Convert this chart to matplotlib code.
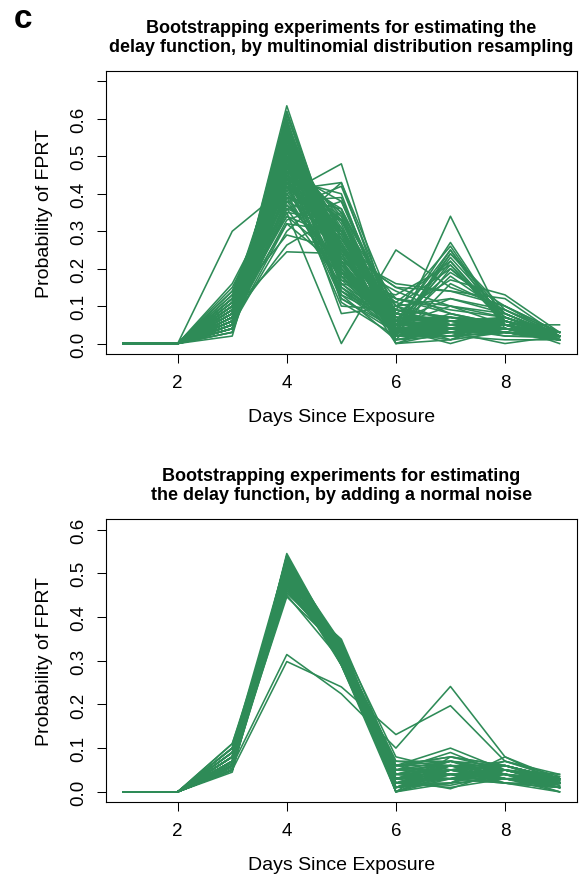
import matplotlib

matplotlib.use("Agg")
import matplotlib.pyplot as plt

plt.rcParams["font.family"] = ["Liberation Sans", "DejaVu Sans"]

LINE_COLOR = "#2E8B57"

days = [1, 2, 3, 4, 5, 6, 7, 8, 9]
# every run is zero on days 1 and 2
lead_zeros = [0.0, 0.0]

# probability of FPRT on days 3..9, one row per bootstrap run
multinomial_runs = [
    [0.06, 0.635, 0.20, 0.03, 0.04, 0.02, 0.015],
    [0.05, 0.62, 0.22, 0.00, 0.03, 0.03, 0.01],
    [0.08, 0.60, 0.18, 0.05, 0.05, 0.02, 0.02],
    [0.04, 0.59, 0.24, 0.02, 0.06, 0.04, 0.01],
    [0.10, 0.58, 0.16, 0.06, 0.03, 0.05, 0.02],
    [0.07, 0.57, 0.26, 0.01, 0.04, 0.03, 0.02],
    [0.12, 0.56, 0.15, 0.03, 0.07, 0.05, 0.02],
    [0.05, 0.55, 0.28, 0.04, 0.00, 0.04, 0.02],
    [0.09, 0.54, 0.20, 0.08, 0.05, 0.03, 0.01],
    [0.03, 0.53, 0.30, 0.02, 0.06, 0.04, 0.02],
    [0.11, 0.52, 0.22, 0.05, 0.04, 0.03, 0.03],
    [0.06, 0.51, 0.25, 0.10, 0.03, 0.04, 0.01],
    [0.14, 0.50, 0.19, 0.03, 0.08, 0.04, 0.02],
    [0.08, 0.50, 0.32, 0.00, 0.01, 0.03, 0.02],
    [0.05, 0.49, 0.27, 0.06, 0.07, 0.05, 0.01],
    [0.10, 0.48, 0.24, 0.04, 0.05, 0.06, 0.03],
    [0.07, 0.48, 0.35, 0.03, 0.02, 0.03, 0.02],
    [0.12, 0.47, 0.21, 0.07, 0.06, 0.05, 0.02],
    [0.04, 0.46, 0.38, 0.04, 0.03, 0.00, 0.02],
    [0.09, 0.46, 0.18, 0.12, 0.08, 0.05, 0.02],
    [0.06, 0.45, 0.30, 0.05, 0.06, 0.06, 0.02],
    [0.15, 0.44, 0.25, 0.04, 0.05, 0.05, 0.02],
    [0.08, 0.44, 0.40, 0.02, 0.02, 0.03, 0.01],
    [0.05, 0.43, 0.33, 0.06, 0.07, 0.04, 0.02],
    [0.11, 0.42, 0.28, 0.08, 0.04, 0.05, 0.02],
    [0.30, 0.42, 0.14, 0.03, 0.05, 0.04, 0.02],
    [0.07, 0.41, 0.43, 0.03, 0.02, 0.03, 0.01],
    [0.06, 0.40, 0.48, 0.02, 0.02, 0.01, 0.01],
    [0.10, 0.40, 0.26, 0.09, 0.07, 0.06, 0.02],
    [0.04, 0.39, 0.36, 0.08, 0.06, 0.05, 0.02],
    [0.08, 0.38, 0.30, 0.05, 0.10, 0.07, 0.02],
    [0.12, 0.37, 0.22, 0.14, 0.08, 0.05, 0.02],
    [0.05, 0.36, 0.42, 0.06, 0.04, 0.05, 0.02],
    [0.09, 0.35, 0.00, 0.25, 0.15, 0.10, 0.03],
    [0.07, 0.35, 0.33, 0.10, 0.06, 0.07, 0.02],
    [0.10, 0.34, 0.28, 0.06, 0.12, 0.08, 0.02],
    [0.06, 0.33, 0.38, 0.07, 0.07, 0.06, 0.03],
    [0.08, 0.32, 0.30, 0.12, 0.09, 0.07, 0.02],
    [0.05, 0.30, 0.43, 0.08, 0.05, 0.07, 0.02],
    [0.11, 0.29, 0.25, 0.15, 0.10, 0.08, 0.02],
    [0.07, 0.263, 0.35, 0.10, 0.12, 0.09, 0.03],
    [0.09, 0.245, 0.24, 0.16, 0.14, 0.10, 0.03],
    [0.05, 0.50, 0.12, 0.03, 0.22, 0.06, 0.02],
    [0.06, 0.45, 0.13, 0.06, 0.25, 0.04, 0.01],
    [0.04, 0.48, 0.08, 0.10, 0.20, 0.08, 0.02],
    [0.07, 0.40, 0.15, 0.05, 0.27, 0.05, 0.01],
    [0.03, 0.42, 0.18, 0.02, 0.24, 0.09, 0.02],
    [0.05, 0.38, 0.20, 0.04, 0.23, 0.07, 0.03],
    [0.06, 0.36, 0.16, 0.13, 0.21, 0.06, 0.02],
    [0.04, 0.44, 0.10, 0.09, 0.26, 0.05, 0.02],
    [0.08, 0.34, 0.22, 0.03, 0.25, 0.06, 0.02],
    [0.03, 0.46, 0.14, 0.06, 0.19, 0.10, 0.02],
    [0.05, 0.32, 0.20, 0.02, 0.34, 0.05, 0.02],
    [0.06, 0.52, 0.11, 0.02, 0.20, 0.07, 0.02],
    [0.04, 0.39, 0.17, 0.11, 0.22, 0.05, 0.00],
    [0.07, 0.43, 0.12, 0.04, 0.24, 0.08, 0.02],
    [0.05, 0.37, 0.25, 0.15, 0.14, 0.12, 0.02],
    [0.06, 0.41, 0.19, 0.08, 0.17, 0.13, 0.03],
    [0.08, 0.58, 0.22, 0.02, 0.04, 0.04, 0.02],
    [0.06, 0.56, 0.19, 0.07, 0.05, 0.04, 0.03],
    [0.09, 0.53, 0.24, 0.03, 0.04, 0.05, 0.02],
    [0.07, 0.51, 0.27, 0.02, 0.05, 0.06, 0.02],
    [0.05, 0.61, 0.21, 0.03, 0.04, 0.04, 0.02],
    [0.10, 0.55, 0.17, 0.05, 0.06, 0.05, 0.02],
    [0.04, 0.57, 0.23, 0.06, 0.03, 0.05, 0.05],
    [0.13, 0.49, 0.20, 0.06, 0.05, 0.05, 0.02],
    [0.06, 0.47, 0.30, 0.06, 0.04, 0.05, 0.02],
    [0.08, 0.45, 0.26, 0.09, 0.05, 0.05, 0.02],
    [0.16, 0.44, 0.22, 0.05, 0.06, 0.05, 0.02],
    [0.05, 0.54, 0.25, 0.04, 0.05, 0.05, 0.02],
    [0.07, 0.60, 0.15, 0.06, 0.05, 0.05, 0.02],
    [0.09, 0.47, 0.35, 0.02, 0.03, 0.03, 0.01],
    [0.06, 0.43, 0.22, 0.12, 0.10, 0.05, 0.02],
    [0.02, 0.52, 0.28, 0.08, 0.04, 0.04, 0.02],
    [0.11, 0.50, 0.26, 0.03, 0.03, 0.05, 0.02],
    [0.07, 0.62, 0.18, 0.04, 0.04, 0.03, 0.02],
    [0.09, 0.59, 0.20, 0.03, 0.05, 0.03, 0.01],
    [0.06, 0.57, 0.21, 0.05, 0.05, 0.04, 0.02],
    [0.11, 0.56, 0.19, 0.04, 0.04, 0.04, 0.02],
    [0.05, 0.55, 0.30, 0.02, 0.03, 0.03, 0.02],
    [0.08, 0.54, 0.23, 0.05, 0.04, 0.04, 0.02],
    [0.12, 0.53, 0.18, 0.06, 0.05, 0.04, 0.02],
    [0.06, 0.52, 0.31, 0.03, 0.03, 0.04, 0.01],
    [0.10, 0.51, 0.21, 0.07, 0.05, 0.04, 0.02],
    [0.04, 0.50, 0.34, 0.04, 0.04, 0.03, 0.01],
    [0.13, 0.48, 0.27, 0.02, 0.04, 0.04, 0.02],
    [0.07, 0.47, 0.25, 0.07, 0.06, 0.06, 0.02],
    [0.09, 0.46, 0.33, 0.04, 0.03, 0.04, 0.01],
    [0.05, 0.45, 0.36, 0.03, 0.05, 0.04, 0.02],
    [0.14, 0.43, 0.29, 0.05, 0.04, 0.03, 0.02],
    [0.08, 0.42, 0.31, 0.07, 0.05, 0.05, 0.02],
    [0.10, 0.39, 0.33, 0.06, 0.05, 0.05, 0.02],
    [0.06, 0.38, 0.39, 0.05, 0.05, 0.05, 0.02],
    [0.12, 0.36, 0.30, 0.08, 0.06, 0.06, 0.02],
    [0.05, 0.58, 0.26, 0.03, 0.03, 0.03, 0.02],
    [0.04, 0.49, 0.14, 0.05, 0.21, 0.05, 0.02],
    [0.05, 0.47, 0.16, 0.04, 0.18, 0.08, 0.02],
    [0.06, 0.53, 0.13, 0.01, 0.16, 0.09, 0.02],
    [0.09, 0.55, 0.21, 0.06, 0.01, 0.06, 0.02],
    [0.07, 0.50, 0.29, 0.00, 0.05, 0.07, 0.02],
    [0.05, 0.51, 0.33, 0.01, 0.02, 0.05, 0.03],
    [0.08, 0.49, 0.30, 0.03, 0.01, 0.06, 0.03],
    [0.06, 0.56, 0.25, 0.02, 0.02, 0.06, 0.03],
    [0.09, 0.44, 0.34, 0.01, 0.03, 0.07, 0.02],
    [0.07, 0.52, 0.19, 0.09, 0.07, 0.04, 0.02],
    [0.10, 0.45, 0.23, 0.11, 0.06, 0.03, 0.02],
]

noise_runs = [
    [0.05, 0.545, 0.32, 0.01, 0.04, 0.03, 0.01],
    [0.06, 0.54, 0.31, 0.02, 0.03, 0.04, 0.00],
    [0.07, 0.535, 0.33, 0.00, 0.02, 0.03, 0.01],
    [0.05, 0.53, 0.30, 0.03, 0.05, 0.03, 0.01],
    [0.08, 0.53, 0.32, 0.01, 0.03, 0.02, 0.01],
    [0.06, 0.525, 0.34, 0.00, 0.04, 0.02, 0.02],
    [0.09, 0.52, 0.30, 0.02, 0.04, 0.03, 0.01],
    [0.05, 0.52, 0.33, 0.04, 0.03, 0.02, 0.01],
    [0.07, 0.515, 0.31, 0.03, 0.05, 0.04, 0.02],
    [0.10, 0.51, 0.29, 0.02, 0.06, 0.03, 0.02],
    [0.06, 0.51, 0.335, 0.01, 0.05, 0.04, 0.02],
    [0.08, 0.505, 0.32, 0.05, 0.04, 0.03, 0.02],
    [0.05, 0.50, 0.31, 0.06, 0.06, 0.04, 0.02],
    [0.11, 0.50, 0.30, 0.01, 0.04, 0.04, 0.02],
    [0.07, 0.495, 0.34, 0.02, 0.05, 0.03, 0.02],
    [0.09, 0.49, 0.315, 0.03, 0.07, 0.04, 0.01],
    [0.06, 0.49, 0.325, 0.04, 0.04, 0.05, 0.03],
    [0.08, 0.485, 0.30, 0.05, 0.06, 0.05, 0.02],
    [0.10, 0.48, 0.32, 0.02, 0.05, 0.04, 0.03],
    [0.05, 0.48, 0.345, 0.03, 0.06, 0.04, 0.02],
    [0.07, 0.475, 0.33, 0.04, 0.07, 0.05, 0.03],
    [0.09, 0.47, 0.31, 0.06, 0.08, 0.05, 0.02],
    [0.06, 0.465, 0.33, 0.05, 0.09, 0.04, 0.03],
    [0.08, 0.46, 0.32, 0.07, 0.06, 0.06, 0.03],
    [0.055, 0.455, 0.34, 0.08, 0.05, 0.06, 0.02],
    [0.10, 0.45, 0.30, 0.06, 0.10, 0.05, 0.02],
    [0.065, 0.446, 0.325, 0.07, 0.07, 0.06, 0.03],
    [0.045, 0.54, 0.30, 0.01, 0.02, 0.05, 0.04],
    [0.06, 0.52, 0.29, 0.00, 0.08, 0.06, 0.03],
    [0.07, 0.50, 0.32, 0.00, 0.05, 0.07, 0.035],
    [0.08, 0.53, 0.31, 0.02, 0.01, 0.03, 0.02],
    [0.05, 0.51, 0.30, 0.01, 0.02, 0.08, 0.03],
    [0.09, 0.49, 0.29, 0.03, 0.03, 0.07, 0.04],
    [0.06, 0.47, 0.34, 0.02, 0.02, 0.06, 0.03],
    [0.07, 0.525, 0.305, 0.04, 0.06, 0.02, 0.00],
    [0.05, 0.50, 0.335, 0.03, 0.007, 0.05, 0.02],
    [0.08, 0.48, 0.31, 0.04, 0.05, 0.02, 0.01],
    [0.06, 0.46, 0.349, 0.06, 0.04, 0.03, 0.00],
    [0.10, 0.535, 0.295, 0.01, 0.05, 0.03, 0.025],
    [0.07, 0.515, 0.32, 0.05, 0.07, 0.03, 0.035],
    [0.06, 0.53, 0.315, 0.02, 0.04, 0.03, 0.015],
    [0.08, 0.52, 0.325, 0.03, 0.03, 0.03, 0.02],
    [0.07, 0.51, 0.30, 0.04, 0.05, 0.04, 0.01],
    [0.09, 0.50, 0.315, 0.03, 0.04, 0.05, 0.03],
    [0.06, 0.49, 0.33, 0.05, 0.06, 0.04, 0.02],
    [0.10, 0.48, 0.30, 0.04, 0.07, 0.05, 0.025],
    [0.05, 0.47, 0.335, 0.05, 0.05, 0.06, 0.03],
    [0.08, 0.465, 0.31, 0.06, 0.07, 0.05, 0.02],
    [0.07, 0.54, 0.305, 0.02, 0.03, 0.03, 0.01],
    [0.09, 0.525, 0.32, 0.01, 0.04, 0.04, 0.02],
    [0.06, 0.505, 0.33, 0.03, 0.06, 0.05, 0.015],
    [0.08, 0.495, 0.305, 0.02, 0.05, 0.06, 0.03],
    [0.05, 0.485, 0.34, 0.04, 0.03, 0.05, 0.02],
    [0.11, 0.475, 0.31, 0.03, 0.06, 0.04, 0.01],
    [0.07, 0.455, 0.33, 0.06, 0.08, 0.06, 0.025],
    [0.06, 0.53, 0.29, 0.01, 0.06, 0.05, 0.03],
    [0.08, 0.51, 0.34, 0.02, 0.015, 0.04, 0.02],
    [0.05, 0.52, 0.31, 0.00, 0.03, 0.06, 0.025],
    [0.05, 0.298, 0.24, 0.131, 0.197, 0.07, 0.03],
    [0.06, 0.314, 0.224, 0.10, 0.241, 0.08, 0.02],
]

titles = [
    "Bootstrapping experiments for estimating the\n"
    "delay function, by multinomial distribution resampling",
    "Bootstrapping experiments for estimating\n"
    "the delay function, by adding a normal noise",
]
x_ticks = [2, 4, 6, 8]
top_y_ticks = [0.0, 0.1, 0.2, 0.3, 0.4, 0.5, 0.6, 0.7]
top_y_labels = ["0.0", "0.1", "0.2", "0.3", "0.4", "0.5", "0.6", ""]
bottom_y_ticks = [0.0, 0.1, 0.2, 0.3, 0.4, 0.5, 0.6]
bottom_y_labels = ["0.0", "0.1", "0.2", "0.3", "0.4", "0.5", "0.6"]


def draw_panel(ax, runs, title, y_max, y_ticks, y_labels):
    pad = 0.04 * y_max
    for run in runs:
        ax.plot(days, lead_zeros + run, color=LINE_COLOR, linewidth=1.15)
    ax.set_xlim(0.68, 9.32)
    ax.set_ylim(-pad, y_max + pad)
    ax.set_xticks(x_ticks)
    ax.set_yticks(y_ticks)
    ax.set_yticklabels(y_labels, rotation=90, va="center")
    ax.tick_params(direction="out", length=6.5, width=0.75, labelsize=13.5)
    ax.tick_params(axis="x", pad=8)
    ax.tick_params(axis="y", pad=7)
    for spine in ax.spines.values():
        spine.set_linewidth(0.8)
    ax.set_xlabel("Days Since Exposure", fontsize=14, va="center")
    ax.set_ylabel("Probability of FPRT", fontsize=14, va="center")
    ax.xaxis.set_label_coords(0.5, -0.219)
    ax.yaxis.set_label_coords(-0.13, 0.5)
    ax.text(0.5, 1.12, title, transform=ax.transAxes, ha="center",
            va="center", fontsize=13, fontweight="bold", linespacing=1.15)


fig = plt.figure(figsize=(5.83, 8.79), dpi=100)
ax_top = fig.add_axes([0.1813, 0.5961, 0.8084, 0.3220])
ax_bottom = fig.add_axes([0.1813, 0.0861, 0.8084, 0.3223])

draw_panel(ax_top, multinomial_runs, titles[0], 0.7, top_y_ticks, top_y_labels)
draw_panel(ax_bottom, noise_runs, titles[1], 0.6, bottom_y_ticks, bottom_y_labels)

fig.text(23 / 583, 1 - 19 / 879, "c", fontsize=24, fontweight="bold",
         ha="center", va="center")

fig.savefig("out.png", dpi=100)
plt.close(fig)
